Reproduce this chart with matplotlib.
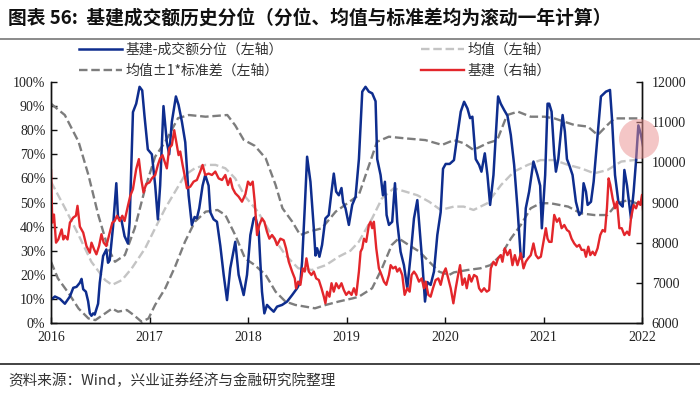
import numpy as np
import matplotlib
matplotlib.use("Agg")
import matplotlib.pyplot as plt
from matplotlib.lines import Line2D
from matplotlib.patches import Ellipse

CJK = ['Noto Sans CJK SC', 'DejaVu Sans']
SERIF = ['Liberation Serif', 'DejaVu Serif']

title = "图表 56:  基建成交额历史分位（分位、均值与标准差均为滚动一年计算）"
source = "资料来源：Wind，兴业证券经济与金融研究院整理"
labels = ["基建-成交额分位（左轴）", "均值±1*标准差（左轴）", "均值（左轴）", "基建（右轴）"]
year_ticks = [2016, 2017, 2018, 2019, 2020, 2021, 2022]
pct_ticks = [0, 10, 20, 30, 40, 50, 60, 70, 80, 90, 100]
right_ticks = [6000, 7000, 8000, 9000, 10000, 11000, 12000]

# 基建-成交额分位 (decimal years, %)
pct_t = [2016.000, 2016.040, 2016.091, 2016.141, 2016.192, 2016.226, 2016.259, 2016.293, 2016.310,
         2016.327, 2016.354, 2016.377, 2016.394, 2016.411, 2016.428, 2016.444, 2016.478, 2016.495,
         2016.529, 2016.562, 2016.579, 2016.596, 2016.630, 2016.663, 2016.680, 2016.714, 2016.747,
         2016.781, 2016.798, 2016.832, 2016.865, 2016.899, 2016.926, 2016.949, 2016.983,
         2017.024, 2017.058, 2017.085, 2017.108, 2017.142, 2017.176, 2017.200, 2017.227, 2017.268,
         2017.295, 2017.329, 2017.363, 2017.397, 2017.430, 2017.458, 2017.481, 2017.505, 2017.539,
         2017.566, 2017.600, 2017.617, 2017.651, 2017.685, 2017.719, 2017.753, 2017.787, 2017.820,
         2017.871, 2017.905, 2017.956, 2017.990, 2018.024, 2018.058,
         2018.075, 2018.109, 2018.125, 2018.142, 2018.166, 2018.193, 2018.227, 2018.261, 2018.295,
         2018.346, 2018.397, 2018.448, 2018.498, 2018.532, 2018.549, 2018.576, 2018.600, 2018.634,
         2018.668, 2018.685, 2018.702, 2018.725, 2018.752, 2018.786, 2018.820, 2018.848, 2018.871,
         2018.895, 2018.922, 2018.949, 2018.966, 2018.990, 2019.024, 2019.058, 2019.092,
         2019.126, 2019.160, 2019.193, 2019.227, 2019.261, 2019.295, 2019.312, 2019.346, 2019.370,
         2019.390, 2019.407, 2019.431, 2019.464, 2019.492, 2019.515, 2019.549, 2019.583, 2019.617,
         2019.651, 2019.685, 2019.719, 2019.742, 2019.769, 2019.797, 2019.820, 2019.854, 2019.888,
         2019.922, 2019.956, 2019.980, 2020.007, 2020.047, 2020.091,
         2020.126, 2020.160, 2020.194, 2020.228, 2020.255, 2020.278, 2020.312, 2020.346, 2020.370,
         2020.404, 2020.431, 2020.458, 2020.492, 2020.516, 2020.539, 2020.566, 2020.600, 2020.634,
         2020.668, 2020.702, 2020.736, 2020.770, 2020.797, 2020.820, 2020.854, 2020.898, 2020.939,
         2020.966, 2020.983, 2021.017, 2021.041,
         2021.058, 2021.082, 2021.109, 2021.126, 2021.150, 2021.177, 2021.194, 2021.217, 2021.238,
         2021.261, 2021.295, 2021.329, 2021.363, 2021.387, 2021.407, 2021.431, 2021.448, 2021.482,
         2021.509, 2021.543, 2021.583, 2021.634, 2021.675, 2021.695, 2021.726, 2021.760, 2021.787,
         2021.804, 2021.821, 2021.848, 2021.868, 2021.888, 2021.915, 2021.939, 2021.963, 2021.990,
         2022.012]
pct_v = [9.7, 11, 10, 8, 11, 14.6, 15, 16.7, 18.3,
         14, 13, 9, 4, 3, 4, 3.5, 8, 16.7,
         27.8, 30.5, 25, 26, 40, 58, 44, 43, 36,
         33, 41.7, 87.5, 91, 98, 96.5, 86, 72,
         70, 57, 43, 57, 90, 75, 70, 83.5, 94,
         90.5, 83.5, 75, 53, 40.7, 44, 43.4, 47.6, 57,
         61.4, 57, 46, 43, 42, 32, 20, 9.5, 22.7,
         33.7, 20, 11.6, 20, 36.5, 43.4,
         44, 38, 25.4, 13, 4, 7.5, 6, 4.7, 6.8,
         7.5, 8.9, 11.6, 14.4, 17, 25.4, 47.6, 69, 58.6,
         39.3, 28, 31, 27.5, 32.4, 43.4, 44.8, 54.5, 62,
         54.5, 53, 56, 50, 47.6, 40.7, 49, 52.4,
         68, 96, 98, 96, 95.3, 92, 68, 61.4, 53,
         58.6, 44.8, 40.7, 42, 58, 42, 29.6, 24, 14.4,
         28, 43.4, 51, 39, 25.4, 8.9, 17, 15.8, 21.3,
         36.5, 46, 64, 66, 66, 67.6,
         78, 87.7, 91.8, 89, 85, 85.6, 68, 65.6, 62.8,
         70.4, 61.4, 49, 61.4, 78, 94, 91, 88.4, 86,
         78, 65.6, 47.6, 26.8, 27.5, 47.6, 54.5, 67, 61.4,
         57, 39.3, 61.4, 91,
         91, 87.7, 70, 62.8, 68, 79.4, 86.3, 79.4, 68,
         65.6, 61.4, 50.3, 44.8, 46, 58, 54.5, 49, 50.3,
         58.6, 75, 94, 96, 96.7, 85, 61.4, 50.3, 49,
         48.3, 63.5, 57, 50.3, 43.4, 54.5, 67, 82, 78,
         73]

# 基建 index (right axis)
infra_t = [2016.000, 2016.013, 2016.030, 2016.051, 2016.074, 2016.108, 2016.125, 2016.141, 2016.168,
           2016.192, 2016.226, 2016.253, 2016.269, 2016.293, 2016.327, 2016.360, 2016.394, 2016.411,
           2016.438, 2016.461, 2016.488, 2016.512, 2016.535, 2016.562, 2016.596, 2016.623, 2016.646,
           2016.670, 2016.697, 2016.724, 2016.747, 2016.781, 2016.805, 2016.832, 2016.865, 2016.892,
           2016.916, 2016.939, 2016.966, 2017.000,
           2017.024, 2017.058, 2017.085, 2017.108, 2017.132, 2017.153, 2017.176, 2017.200, 2017.227,
           2017.251, 2017.268, 2017.295, 2017.312, 2017.336, 2017.356, 2017.380, 2017.414, 2017.448,
           2017.481, 2017.515, 2017.539, 2017.566, 2017.600, 2017.634, 2017.668, 2017.702, 2017.736,
           2017.770, 2017.797, 2017.820, 2017.844, 2017.871, 2017.905, 2017.939, 2017.973,
           2018.000, 2018.024, 2018.048, 2018.068, 2018.092, 2018.115, 2018.142, 2018.166, 2018.193,
           2018.217, 2018.244, 2018.271, 2018.295, 2018.329, 2018.363, 2018.386, 2018.414, 2018.448,
           2018.475, 2018.488, 2018.509, 2018.532, 2018.556, 2018.576, 2018.593, 2018.617, 2018.644,
           2018.668, 2018.692, 2018.719, 2018.746, 2018.770, 2018.786, 2018.803, 2018.827, 2018.848,
           2018.871, 2018.895, 2018.922, 2018.949, 2018.973, 2018.997, 2019.024, 2019.051, 2019.075,
           2019.099, 2019.126, 2019.143, 2019.160, 2019.177, 2019.200, 2019.227, 2019.244, 2019.261,
           2019.278, 2019.302, 2019.329, 2019.356, 2019.380, 2019.404, 2019.431, 2019.448, 2019.472,
           2019.498, 2019.515, 2019.539, 2019.566, 2019.590, 2019.617, 2019.641, 2019.661, 2019.685,
           2019.709, 2019.736, 2019.763, 2019.787, 2019.804, 2019.831, 2019.854, 2019.878, 2019.905,
           2019.932, 2019.956, 2019.983, 2020.007, 2020.041, 2020.058, 2020.085,
           2020.109, 2020.133, 2020.153, 2020.177, 2020.200, 2020.221, 2020.245, 2020.268, 2020.295,
           2020.323, 2020.346, 2020.370, 2020.397, 2020.424, 2020.448, 2020.465, 2020.492, 2020.516,
           2020.539, 2020.566, 2020.583, 2020.607, 2020.634, 2020.661, 2020.685, 2020.709, 2020.736,
           2020.770, 2020.797, 2020.820, 2020.844, 2020.871, 2020.898, 2020.922, 2020.946, 2020.973,
           2021.000, 2021.024, 2021.041,
           2021.058, 2021.082, 2021.109, 2021.136, 2021.160, 2021.184, 2021.211, 2021.238, 2021.261,
           2021.285, 2021.312, 2021.339, 2021.363, 2021.387, 2021.414, 2021.431, 2021.455, 2021.475,
           2021.499, 2021.522, 2021.549, 2021.576, 2021.600, 2021.624, 2021.644, 2021.661, 2021.678,
           2021.702, 2021.726, 2021.746, 2021.770, 2021.794, 2021.821, 2021.848, 2021.871, 2021.888,
           2021.915, 2021.939, 2021.963, 2021.983, 2022.000, 2022.012]
infra_v = [9800, 8500, 8700, 8000, 8080, 8330, 8080, 8170, 8080,
           8500, 8625, 8670, 8917, 8400, 8250, 7917, 7750, 8000,
           7830, 7710, 7917, 8210, 8000, 7917, 8250, 8500, 8540,
           8670, 8540, 8670, 8540, 8917, 9170, 9333, 9833, 10080,
           9583, 9250, 9458, 9500,
           9600, 9685, 9935, 10100, 10180, 10020, 9850, 10350, 10430,
           10800, 10560, 10180, 10270, 9935, 9685, 9354, 9395, 9520,
           9560, 9770, 9935, 9685, 9720, 9685, 9770, 9600, 9560,
           9685, 9435, 9600, 9354, 9230, 9145, 9020, 9200,
           9520, 9435, 9520, 9020, 8190, 8440, 8605, 8520, 8270,
           8100, 8190, 8100, 7940, 8100, 8060, 7860, 7525, 7280,
           7110, 6865, 7030, 6950, 7360, 7280, 7610, 7280, 7195,
           7280, 7110, 7070, 6865, 6655, 6490, 6780, 6655, 6990,
           6780, 6990, 6865, 6990, 6820, 6700, 6780, 6700, 6865,
           6700, 7280, 7775, 7860, 8100, 8020, 8440, 8520, 8360,
           8520, 7860, 7360, 7195, 7030, 6950, 7195, 7440, 7360,
           7400, 7280, 7360, 7195, 6700, 6865, 6780, 7195, 7280,
           7195, 7030, 7110, 6865, 7030, 6700, 6655, 6865, 7070,
           7110, 6950, 7235, 7360, 7030, 6865, 6490,
           6865, 7195, 7440, 6950, 7110, 6865, 7195, 7030, 7195,
           7150, 6865, 6780, 6865, 6780, 6820, 7360, 7525, 7440,
           7610, 7690, 7525, 7860, 7690, 7820, 7440, 7690, 7440,
           7735, 7360, 7525, 7610, 7690, 7980, 7690, 7610, 7650,
           8020, 8360, 8100,
           8020, 8020, 8690, 8520, 8605, 8360, 8440, 8315, 8275,
           8100, 7980, 7900, 7945, 7820, 7820, 7650, 7900, 7690,
           7775, 7690, 7860, 8190, 8315, 8275, 8855, 9600, 9440,
           9100, 8855, 9020, 8360, 8360, 8190, 8275, 8190, 8605,
           8940, 8855, 9020, 8940, 9190, 8770]

# 均值 (rolling mean)
mean_t = [2016.00, 2016.143, 2016.28, 2016.41, 2016.55, 2016.62, 2016.72, 2016.82, 2016.956,
          2017.057, 2017.16, 2017.26, 2017.36, 2017.46, 2017.57, 2017.67, 2017.77, 2017.87, 2017.97,
          2018.10, 2018.24, 2018.38, 2018.51, 2018.65, 2018.79, 2018.92, 2019.04, 2019.125,
          2019.26, 2019.36, 2019.48, 2019.60, 2019.72, 2019.84, 2019.956, 2020.09, 2020.19, 2020.29,
          2020.43, 2020.57, 2020.70, 2020.84, 2020.97, 2021.11, 2021.25, 2021.38, 2021.515, 2021.65,
          2021.79, 2021.92, 2022.01]
mean_v = [58.6, 47.6, 36.5, 25.4, 17.8, 15.8, 17.8, 22.7, 31,
          39.3, 47.6, 54.5, 61.4, 64.2, 65.6, 65.6, 64.2, 60, 52.5,
          46.2, 36.5, 28.2, 22.7, 22, 24, 27.5, 30, 33.7,
          43.4, 51.7, 55.9, 54.5, 53, 50.3, 46.9, 48.3, 48.3, 46.9,
          49.7, 57.3, 62.8, 65.6, 67.6, 67.6, 65.6, 64.2, 62.1, 63.5,
          67, 67.6, 68.3]

# 均值 + 1 标准差
upper_t = [2016.00, 2016.14, 2016.28, 2016.38, 2016.48, 2016.58, 2016.65, 2016.75, 2016.85, 2016.956,
           2017.057, 2017.16, 2017.29, 2017.40, 2017.57, 2017.79, 2017.87, 2017.956, 2018.07, 2018.18,
           2018.28, 2018.35, 2018.45, 2018.53, 2018.62, 2018.75, 2018.89, 2019.02, 2019.125, 2019.23,
           2019.31, 2019.43, 2019.60, 2019.80, 2019.97, 2020.09, 2020.19, 2020.29, 2020.43, 2020.53,
           2020.63, 2020.74, 2020.87, 2021.01, 2021.11, 2021.31, 2021.45, 2021.55, 2021.65, 2021.72,
           2021.89, 2022.01]
upper_v = [91, 86.3, 75.2, 61.4, 44.8, 31, 25.4, 28.2, 39.3, 55.9,
           69, 75.2, 85, 86.3, 85.6, 86.3, 82, 76, 73.5, 68.3,
           57.3, 47.6, 42, 36.5, 37.9, 39.3, 46.2, 50, 53.1, 65.6,
           75.2, 77.3, 76.6, 75.9, 73.9, 75.9, 74.6, 71.8, 74.6, 75.9,
           86.3, 87.7, 85.6, 85.6, 84.9, 82.2, 81.5, 78, 82.2, 84.9,
           84.9, 84.9]

# 均值 - 1 标准差
lower_t = [2016.00, 2016.07, 2016.18, 2016.28, 2016.38, 2016.45, 2016.55, 2016.62, 2016.68, 2016.77,
           2016.84, 2016.92, 2016.99, 2017.057, 2017.16, 2017.26, 2017.36, 2017.46, 2017.57, 2017.69,
           2017.77, 2017.87, 2017.97, 2018.07, 2018.18, 2018.28, 2018.38, 2018.48, 2018.58, 2018.68,
           2018.79, 2018.92, 2019.06, 2019.125, 2019.26, 2019.36, 2019.46, 2019.53, 2019.63, 2019.74,
           2019.84, 2019.94, 2020.04, 2020.09, 2020.23, 2020.36, 2020.46, 2020.57, 2020.67, 2020.77,
           2020.87, 2020.97, 2021.07, 2021.25, 2021.38, 2021.515, 2021.65, 2021.75, 2021.86, 2021.94,
           2022.01]
lower_v = [25.4, 18.5, 12.3, 6, 1.9, 1.2, 4, 6, 4.7, 5.4,
           3.3, 0.5, 1.9, 7.5, 14.4, 23.4, 33.7, 42, 46.2, 46.9,
           44.8, 36.5, 26.8, 24, 19.9, 13, 8.9, 7.5, 6.8, 6.1,
           7.5, 8.9, 10.2, 10.9, 14.4, 22.7, 32.4, 35.1, 32.4, 29.6,
           25.4, 21.3, 19.9, 21, 22, 22.7, 24, 28.2, 35.1, 40.7,
           47.6, 49.7, 49.7, 48.3, 45.5, 44.8, 44.8, 49.7, 51, 49.7,
           49.7]

BLUE = "#0e2d8e"
RED = "#e3262b"
LGRAY = "#c4c4c4"
DGRAY = "#7d7d7d"

fig = plt.figure(figsize=(7.0, 3.94), dpi=100)
ax = fig.add_axes([51 / 700, 1 - 323 / 394, 591 / 700, 241 / 394])
ax2 = ax.twinx()

dash = (3.6, 1.6)
l_up, = ax.plot(upper_t, upper_v, color=DGRAY, lw=1.7, dashes=dash)
ax.plot(lower_t, lower_v, color=DGRAY, lw=1.7, dashes=dash)
l_mean, = ax.plot(mean_t, mean_v, color=LGRAY, lw=1.7, dashes=dash)
l_pct, = ax.plot(pct_t, pct_v, color=BLUE, lw=1.8, solid_joinstyle='round')
l_inf, = ax2.plot(infra_t, infra_v, color=RED, lw=1.7, solid_joinstyle='round')

ax.set_xlim(2016, 2022)
ax.set_ylim(0, 100)
ax2.set_ylim(6000, 12000)
ax.set_xticks(year_ticks)
ax.set_xticklabels([str(y) for y in year_ticks], family=SERIF, fontsize=10)
ax.set_yticks(pct_ticks)
ax.set_yticklabels([f"{v}%" for v in pct_ticks], family=SERIF, fontsize=10)
ax2.set_yticks(right_ticks)
ax2.set_yticklabels([str(v) for v in right_ticks], family=SERIF, fontsize=10)

for a in (ax, ax2):
    a.spines['top'].set_visible(False)
    for s in a.spines.values():
        s.set_linewidth(1.0)
        s.set_color('#111111')
ax.tick_params(axis='both', direction='in', length=4, width=1, pad=4, colors='#111111', labelcolor='#222222')
ax.tick_params(axis='x', pad=6)
ax2.tick_params(axis='y', direction='in', length=4, width=1, pad=7, colors='#111111', labelcolor='#222222')
ax.set_zorder(1)
ax.patch.set_visible(False)
ax2.set_zorder(2)

# highlight circle
circ = Ellipse((639 / 700, 1 - 139 / 394), 40 / 700, 40 / 394, transform=fig.transFigure,
               facecolor="#eb8f8f", alpha=0.5, edgecolor='none', zorder=10)
fig.patches.append(circ)

leg = fig.legend([l_pct, l_up, l_mean, l_inf], labels, ncol=2, loc='upper left',
                 bbox_to_anchor=(66 / 700, 1 - 30 / 394), frameon=False,
                 prop={'family': CJK, 'size': 10}, handlelength=3.1, handletextpad=0.25,
                 columnspacing=10.0, labelspacing=0.5)
for t in leg.get_texts():
    t.set_color('#333333')

fig.text(8 / 700, 1 - 18 / 394, title, fontsize=13.5, fontweight='bold', family=CJK,
         va='center', ha='left', color='#111111')
fig.add_artist(Line2D([0, 1], [1 - 39 / 394, 1 - 39 / 394], transform=fig.transFigure,
                      color='#777777', lw=1.2))
fig.add_artist(Line2D([0, 1], [1 - 364 / 394, 1 - 364 / 394], transform=fig.transFigure,
                      color='#222222', lw=1.2))
fig.text(8 / 700, 1 - 381 / 394, source, fontsize=10.5, family=CJK, va='center', ha='left',
         color='#333333')

fig.savefig("out.png", dpi=100)
